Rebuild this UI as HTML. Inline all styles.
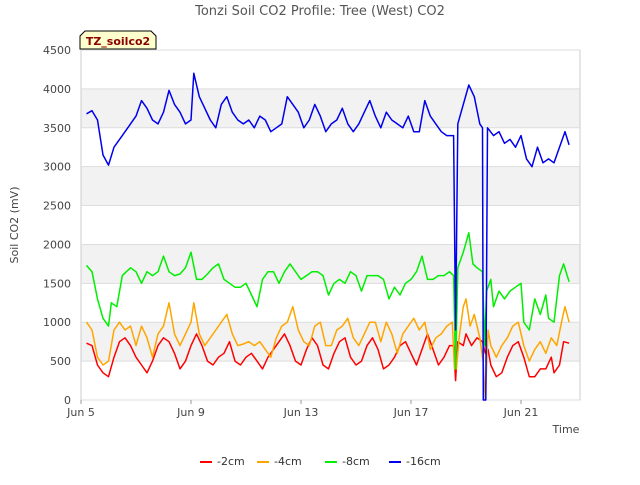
<!DOCTYPE html>
<html><head><meta charset="utf-8"><style>
body{margin:0;background:#fff;font-family:"Liberation Sans","DejaVu Sans",sans-serif}
svg text{font-family:"DejaVu Sans","Liberation Sans",sans-serif}
</style></head><body>
<svg id="chart" width="640" height="480" viewBox="0 0 640 480" xmlns="http://www.w3.org/2000/svg">
<text x="320" y="15" text-anchor="middle" font-size="13" fill="#555">Tonzi Soil CO2 Profile: Tree (West) CO2</text>
<g id="bands"></g>
<rect x="81" y="50" width="499" height="350" fill="none" stroke="#ccc"/>
<g id="yticks"></g><g id="xticks"></g>
<g id="series"></g>
<text transform="translate(18,225) rotate(-90)" text-anchor="middle" font-size="11" fill="#444">Soil CO2 (mV)</text>
<text x="566" y="433" text-anchor="middle" font-size="11" fill="#444">Time</text>
<g>
<path d="M80,49 L80,36 L85,31 L151,31 L156,36 L156,49 Z" fill="#ffffcc" stroke="#000"/>
<text x="118" y="45" text-anchor="middle" font-size="11" font-weight="bold" fill="#8b0000">TZ_soilco2</text>
</g>
<g id="legend"></g>
</svg>
<script>
const yTicks=[0,500,1000,1500,2000,2500,3000,3500,4000,4500];
const xTickDays=[5,9,13,17,21];
const xTickLabels=["Jun 5","Jun 9","Jun 13","Jun 17","Jun 21"];
const seriesNames=["-2cm","-4cm","-8cm","-16cm"];
const seriesColors=["#ff0000","#ffa500","#00ee00","#0000ee"];
const blueDays=[5.2,5.4,5.6,5.8,6.0,6.2,6.5,6.8,7.0,7.2,7.4,7.6,7.8,8.0,8.2,8.4,8.6,8.8,9.0,9.1,9.3,9.5,9.7,9.9,10.1,10.3,10.5,10.7,10.9,11.1,11.3,11.5,11.7,11.9,12.1,12.3,12.5,12.7,12.9,13.1,13.3,13.5,13.7,13.9,14.1,14.3,14.5,14.7,14.9,15.1,15.3,15.5,15.7,15.9,16.1,16.3,16.5,16.7,16.9,17.1,17.3,17.5,17.7,17.9,18.1,18.3,18.55,18.62,18.7,18.9,19.1,19.3,19.5,19.6,19.63,19.72,19.78,20.0,20.2,20.4,20.6,20.8,21.0,21.2,21.4,21.6,21.8,22.0,22.2,22.4,22.6,22.75];
const blueVals=[3680,3720,3600,3150,3020,3250,3400,3550,3650,3850,3750,3600,3550,3700,3980,3800,3700,3550,3600,4200,3900,3750,3600,3500,3800,3900,3700,3600,3550,3600,3500,3650,3600,3450,3500,3550,3900,3800,3700,3500,3600,3800,3650,3450,3550,3600,3750,3550,3450,3550,3700,3850,3650,3500,3700,3600,3550,3500,3650,3450,3450,3850,3650,3550,3450,3400,3400,900,3550,3800,4050,3900,3550,3500,0,0,3500,3400,3450,3300,3350,3250,3400,3100,3000,3250,3050,3100,3050,3250,3450,3280];
const greenDays=[5.2,5.4,5.6,5.8,6.0,6.1,6.3,6.5,6.8,7.0,7.2,7.4,7.6,7.8,8.0,8.2,8.4,8.6,8.8,9.0,9.2,9.4,9.6,9.8,10.0,10.2,10.4,10.6,10.8,11.0,11.2,11.4,11.6,11.8,12.0,12.2,12.4,12.6,12.8,13.0,13.2,13.4,13.6,13.8,14.0,14.2,14.4,14.6,14.8,15.0,15.2,15.4,15.6,15.8,16.0,16.2,16.4,16.6,16.8,17.0,17.2,17.4,17.6,17.8,18.0,18.2,18.4,18.55,18.62,18.7,18.9,19.1,19.25,19.4,19.6,19.68,19.75,19.9,20.0,20.2,20.4,20.6,20.8,21.0,21.1,21.3,21.5,21.7,21.9,22.0,22.2,22.4,22.55,22.75];
const greenVals=[1730,1650,1300,1050,950,1250,1200,1600,1700,1650,1500,1650,1600,1650,1850,1650,1600,1620,1700,1900,1550,1550,1620,1700,1750,1550,1500,1450,1450,1500,1350,1200,1550,1650,1650,1500,1650,1750,1650,1550,1600,1650,1650,1600,1350,1500,1550,1500,1650,1600,1400,1600,1600,1600,1550,1300,1450,1350,1500,1550,1650,1850,1550,1550,1600,1600,1650,1600,400,1700,1900,2150,1750,1700,1650,700,1400,1550,1200,1400,1300,1400,1450,1500,1000,900,1300,1100,1350,1050,1000,1600,1750,1520];
const orangeDays=[5.2,5.4,5.6,5.8,6.0,6.2,6.4,6.6,6.8,7.0,7.2,7.4,7.6,7.8,8.0,8.2,8.4,8.6,8.8,9.0,9.1,9.3,9.5,9.7,9.9,10.1,10.3,10.5,10.7,10.9,11.1,11.3,11.5,11.7,11.9,12.1,12.3,12.5,12.7,12.9,13.1,13.3,13.5,13.7,13.9,14.1,14.3,14.5,14.7,14.9,15.1,15.3,15.5,15.7,15.9,16.1,16.3,16.5,16.7,16.9,17.1,17.3,17.5,17.7,17.9,18.1,18.3,18.5,18.58,18.65,18.75,18.9,19.0,19.15,19.3,19.5,19.62,19.7,19.8,19.9,20.1,20.3,20.5,20.7,20.9,21.1,21.3,21.5,21.7,21.9,22.1,22.3,22.5,22.6,22.75];
const orangeVals=[1000,900,550,450,500,900,1000,900,950,700,950,800,550,850,950,1250,850,700,850,1000,1250,850,700,800,900,1000,1100,850,700,720,750,700,750,650,550,800,950,1000,1200,900,750,700,950,1000,700,700,900,950,1050,800,700,850,1000,1000,750,1000,850,600,850,950,1050,900,1000,650,800,850,950,1000,400,400,800,1200,1300,950,1100,800,500,0,900,700,550,700,800,950,1000,700,500,650,750,600,800,700,1050,1200,1000];
const redDays=[5.2,5.4,5.6,5.8,6.0,6.2,6.4,6.6,6.8,7.0,7.2,7.4,7.6,7.8,8.0,8.2,8.4,8.6,8.8,9.0,9.2,9.4,9.6,9.8,10.0,10.2,10.4,10.6,10.8,11.0,11.2,11.4,11.6,11.8,12.0,12.2,12.4,12.6,12.8,13.0,13.2,13.4,13.6,13.8,14.0,14.2,14.4,14.6,14.8,15.0,15.2,15.4,15.6,15.8,16.0,16.2,16.4,16.6,16.8,17.0,17.2,17.4,17.6,17.8,18.0,18.2,18.4,18.55,18.62,18.7,18.9,19.0,19.2,19.4,19.6,19.7,19.8,19.9,20.1,20.3,20.5,20.7,20.9,21.1,21.3,21.5,21.7,21.9,22.1,22.2,22.4,22.55,22.75];
const redVals=[730,700,450,350,300,550,750,800,700,550,450,350,500,700,800,750,600,400,500,700,850,700,500,450,550,600,750,500,450,550,600,500,400,550,650,750,850,700,500,450,650,800,700,450,400,600,750,800,550,450,500,700,800,650,400,450,550,700,750,600,450,650,850,650,450,550,700,700,250,750,700,850,700,800,750,600,650,450,300,350,550,700,750,550,300,300,400,400,550,350,450,750,730];

const NS="http://www.w3.org/2000/svg";
const X0=81,X1=580,Y0=400,Y1=50,D0=5,D1=23.145,VMAX=4500;
function xs(d){return X0+(d-D0)/(D1-D0)*(X1-X0);}
function ys(v){return Y0-v/VMAX*(Y0-Y1);}
function mk(tag,attrs,parent){const e=document.createElementNS(NS,tag);for(const k in attrs)e.setAttribute(k,attrs[k]);parent.appendChild(e);return e;}
const bands=document.getElementById('bands');
for(let i=0;i<yTicks.length-1;i++){
  if(i%2===1){
    const r=mk('rect',{x:X0,y:ys(yTicks[i+1]),width:X1-X0,height:ys(yTicks[i])-ys(yTicks[i+1]),fill:'#f2f2f2'},bands);
    
    
  }
}
const yt=document.getElementById('yticks');
yTicks.forEach(v=>{
  const l=mk('line',{x1:X0,x2:X1,y1:ys(v),y2:ys(v),stroke:'#ddd'},yt);
  
  
  const t=mk('text',{x:71,y:ys(v)+4,'text-anchor':'end','font-size':'11',fill:'#444'},yt);
  t.textContent=v;
  
  
});
const xt=document.getElementById('xticks');
xTickDays.forEach((d,i)=>{
  mk('line',{x1:xs(d),x2:xs(d),y1:Y0,y2:Y0+4,stroke:'#999'},xt);
  const t=mk('text',{x:xs(d),y:416,'text-anchor':'middle','font-size':'11',fill:'#444'},xt);
  t.textContent=xTickLabels[i];
  
  
});
const sg=document.getElementById('series');
const allDays=[redDays,orangeDays,greenDays,blueDays];
const allVals=[redVals,orangeVals,greenVals,blueVals];
for(let s=0;s<4;s++){
  const pts=allDays[s].map((d,i)=>xs(d).toFixed(1)+','+ys(allVals[s][i]).toFixed(1)).join(' ');
  const p=mk('polyline',{points:pts,fill:'none',stroke:seriesColors[s],'stroke-width':'1.5','stroke-linejoin':'round'},sg);
  
  
}
const lg=document.getElementById('legend');
const lx=[200,257,325,389];
for(let s=0;s<4;s++){
  const g=mk('g',{},lg);
  
  
  mk('line',{x1:lx[s],x2:lx[s]+12,y1:462,y2:462,stroke:seriesColors[s],'stroke-width':'2'},g);
  const t=mk('text',{x:lx[s]+17,y:465,'font-size':'11',fill:'#333'},g);
  t.textContent=seriesNames[s];
}
</script>
</body></html>
